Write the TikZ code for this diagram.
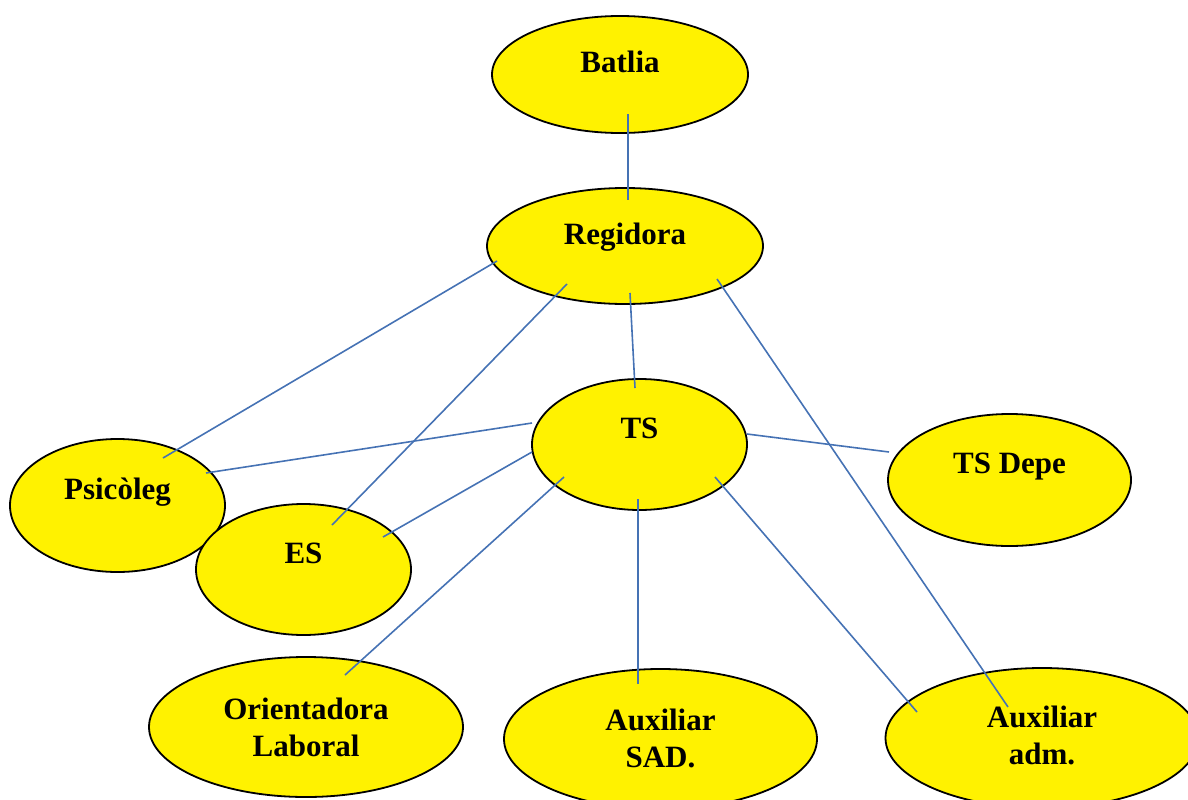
\documentclass[tikz,border=0pt]{standalone}
\usepackage{fontspec}
\setmainfont{Liberation Serif}
\usetikzlibrary{shapes.geometric}
\definecolor{edgeblue}{RGB}{69,114,180}
\begin{document}
\begin{tikzpicture}[x=1pt,y=-1pt,
  oval/.style={ellipse, draw=black, line width=1.8pt, fill=yellow, inner sep=0pt},
  lbl/.style={font=\fontsize{31}{37}\selectfont\bfseries, align=center, inner sep=0pt},
  link/.style={draw=edgeblue, line width=1.6pt}]
\clip (0,0) rectangle (1188,800);
% ellipses
\node[oval, minimum width=256pt, minimum height=117pt] (bat) at (620,74.5) {};
\node[oval, minimum width=276pt, minimum height=116pt] (reg) at (625,246) {};
\node[oval, minimum width=215pt, minimum height=131pt] (ts) at (639.5,444.5) {};
\node[oval, minimum width=243pt, minimum height=132pt] (dep) at (1009.5,480) {};
\node[oval, minimum width=215pt, minimum height=133pt] (psi) at (117.5,505.5) {};
\node[oval, minimum width=215pt, minimum height=131pt] (es) at (303.5,569.5) {};
\node[oval, minimum width=314pt, minimum height=140pt] (ori) at (306,727) {};
\node[oval, minimum width=313pt, minimum height=140pt] (sad) at (660.5,739) {};
\node[oval, minimum width=313pt, minimum height=140pt] (adm) at (1042,738) {};
% connectors
\draw[link] ([shift={(8,39.5)}]bat.center) -- ([shift={(3,-46)}]reg.center);
\draw[link] ([shift={(-128,15)}]reg.center) -- ([shift={(45.5,-47.5)}]psi.center);
\draw[link] ([shift={(-58,38)}]reg.center) -- ([shift={(28.5,-44.5)}]es.center);
\draw[link] ([shift={(5,47)}]reg.center) -- ([shift={(-4.5,-56.5)}]ts.center);
\draw[link] ([shift={(92,33)}]reg.center) -- ([shift={(-34,-31)}]adm.center);
\draw[link] ([shift={(-107.5,-21.5)}]ts.center) -- ([shift={(88.5,-32.5)}]psi.center);
\draw[link] ([shift={(-107.5,7.5)}]ts.center) -- ([shift={(79.5,-32.5)}]es.center);
\draw[link] ([shift={(-75.5,32.5)}]ts.center) -- ([shift={(39,-52)}]ori.center);
\draw[link] ([shift={(-1.5,54.5)}]ts.center) -- ([shift={(-22.5,-55)}]sad.center);
\draw[link] ([shift={(107.5,-10.5)}]ts.center) -- ([shift={(-120.5,-28)}]dep.center);
\draw[link] ([shift={(75.5,32.5)}]ts.center) -- ([shift={(-125,-26)}]adm.center);
% labels
\node[lbl, anchor=base] (bat-t) at ([yshift=1.5pt]bat.center) {Batlia};
\node[lbl, anchor=base] (reg-t) at ([yshift=2pt]reg.center) {Regidora};
\node[lbl, anchor=base] (ts-t) at ([yshift=6.5pt]ts.center) {TS};
\node[lbl, anchor=base] (dep-t) at ([yshift=7pt]dep.center) {TS Depe};
\node[lbl, anchor=base] (psi-t) at ([yshift=6.5pt]psi.center) {Psicòleg};
\node[lbl, anchor=base] (es-t) at ([yshift=6.5pt]es.center) {ES};
\node[lbl] (ori-t) at (ori.center) {Orientadora\\Laboral};
\node[lbl] (sad-t) at ([yshift=1pt]sad.center) {Auxiliar\\SAD.};
\node[lbl] (adm-t) at ([yshift=2.5pt]adm.center) {Auxiliar\\adm.};
\end{tikzpicture}
\end{document}
